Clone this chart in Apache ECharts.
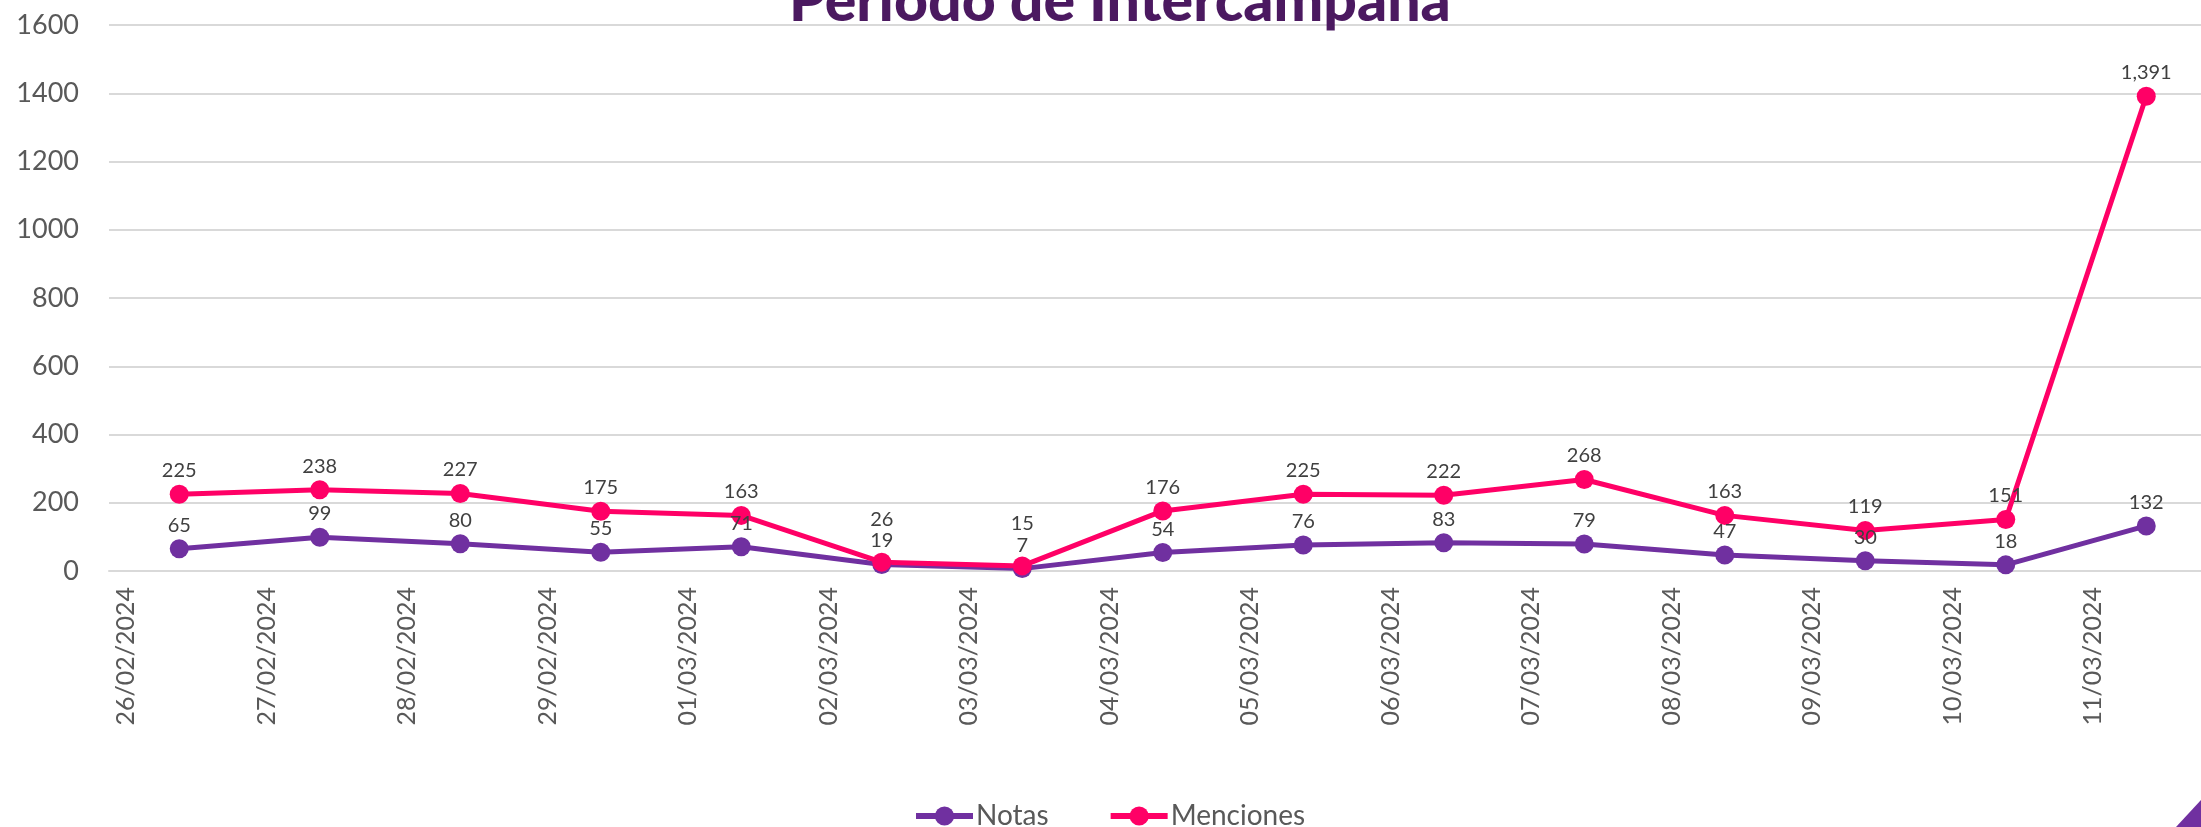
<!DOCTYPE html>
<html>
<head>
<meta charset="utf-8">
<script src="https://cdn.jsdelivr.net/npm/echarts@6/dist/echarts.min.js"></script>
<style>
  html, body { margin: 0; padding: 0; background: #fff; }
  #chart { width: 2201px; height: 827px; }
</style>
</head>
<body>
<div id="chart"></div>
<script>
const dates = ['26/02/2024', '27/02/2024', '28/02/2024', '29/02/2024', '01/03/2024',
  '02/03/2024', '03/03/2024', '04/03/2024', '05/03/2024', '06/03/2024',
  '07/03/2024', '08/03/2024', '09/03/2024', '10/03/2024', '11/03/2024'];
const notas = [65, 99, 80, 55, 71, 19, 7, 54, 76, 83, 79, 47, 30, 18, 132];
const menciones = [225, 238, 227, 175, 163, 26, 15, 176, 225, 222, 268, 163, 119, 151, 1391];
const yTicks = { min: 0, max: 1600, interval: 200 };

const chart = echarts.init(document.getElementById('chart'));

const fmt = (p) => p.value.toLocaleString('en-US');

chart.setOption({
  animation: false,
  title: {
    text: 'Período de Intercampaña',
    left: 784,
    top: -33,
    textStyle: {
      color: '#4b1960',
      fontFamily: 'Lato',
      fontWeight: 900,
      fontSize: 59
    }
  },
  legend: {
    data: ['Notas', 'Menciones'],
    left: 908,
    top: 797,
    itemWidth: 57,
    itemHeight: 24,
    itemGap: 59,
    lineStyle: { width: 6 },
    textStyle: {
      color: '#595959',
      fontFamily: 'Lato',
      fontSize: 28,
      padding: [0, 0, 0, -2]
    }
  },
  grid: {
    left: 109,
    width: 2107.5,
    top: 25,
    bottom: 256,
    containLabel: false,
    outerBoundsMode: 'none'
  },
  xAxis: {
    type: 'category',
    data: dates,
    boundaryGap: true,
    axisLine: { show: true, lineStyle: { color: '#d9d9d9', width: 2 } },
    axisTick: { show: false },
    axisLabel: {
      interval: 0,
      rotate: 90,
      margin: 16,
      color: '#595959',
      fontFamily: 'Lato',
      fontSize: 25,
      lineHeight: 106,
      verticalAlign: 'bottom'
    }
  },
  yAxis: {
    type: 'value',
    min: yTicks.min,
    max: yTicks.max,
    interval: yTicks.interval,
    axisLine: { show: false },
    axisTick: { show: false },
    splitLine: { lineStyle: { color: '#d9d9d9', width: 2 } },
    axisLabel: {
      margin: 30,
      color: '#595959',
      fontFamily: 'Lato',
      fontSize: 27,
      formatter: (v) => String(v)
    }
  },
  series: [
    {
      name: 'Notas',
      type: 'line',
      data: notas,
      symbol: 'circle',
      symbolSize: 19,
      itemStyle: { color: '#7030a0' },
      lineStyle: { color: '#7030a0', width: 5 },
      label: {
        show: true,
        position: 'top',
        distance: 4,
        color: '#404040',
        fontFamily: 'Lato',
        fontSize: 20,
        formatter: fmt
      }
    },
    {
      name: 'Menciones',
      type: 'line',
      data: menciones,
      symbol: 'circle',
      symbolSize: 19,
      itemStyle: { color: '#ff0066' },
      lineStyle: { color: '#ff0066', width: 5 },
      label: {
        show: true,
        position: 'top',
        distance: 4,
        color: '#404040',
        fontFamily: 'Lato',
        fontSize: 20,
        formatter: fmt
      },
      labelLayout: (p) => {
        const i = p.dataIndex;
        if (Math.abs(menciones[i] - notas[i]) < 30) return { dy: -19 };
        return {};
      }
    }
  ],
  graphic: [{
    type: 'polygon',
    shape: { points: [[2201, 800], [2201, 827], [2176, 827]] },
    style: { fill: '#7030a0' }
  }]
});
</script>
</body>
</html>
